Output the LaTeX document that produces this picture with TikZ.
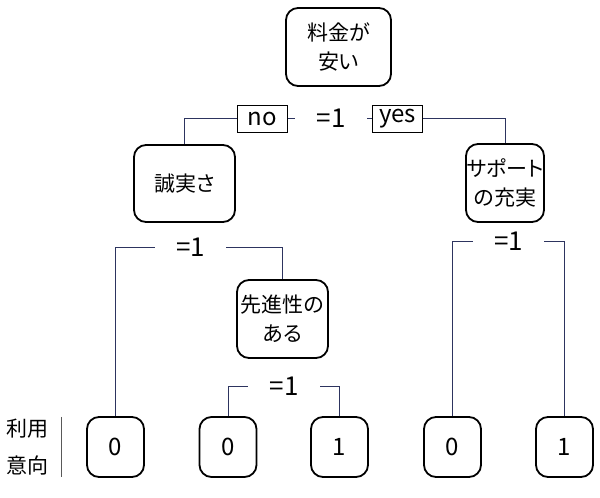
\documentclass[tikz,border=0pt]{standalone}
\usepackage{fontspec}
\setmainfont{Noto Sans CJK JP}[RawFeature=+palt]
\usetikzlibrary{backgrounds}
\definecolor{linkblue}{RGB}{45,52,95}
\tikzset{
  qbox/.style={draw=black, line width=1.8pt, rounded corners=12pt, fill=white,
    align=center, inner sep=0pt, font=\fontsize{21}{29}\selectfont},
  leaf/.style={qbox, minimum width=57pt, minimum height=60pt, font=\fontsize{24}{28}\selectfont},
  answer/.style={draw=black, line width=1pt, fill=white, minimum width=50pt,
    minimum height=27pt, inner sep=0pt, font=\fontsize{24}{27}\selectfont},
  eqlabel/.style={fill=white, minimum width=71pt, inner sep=0pt, font=\fontsize{26}{28}\selectfont},
  conn/.style={draw=linkblue, line width=1pt}
}
\begin{document}
\begin{tikzpicture}[x=1pt, y=-1pt]
  \useasboundingbox (0,0) rectangle (600,498);
  % questions
  \node[qbox, minimum width=105pt, minimum height=78pt] (price) at (338.5,47) {料金が\\安い};
  \node[qbox, minimum width=101pt, minimum height=77pt] (honest) at (184.5,183.5) {誠実さ};
  \node[qbox, minimum width=78pt, minimum height=78pt] (support) at (505,183) {サポート\\の充実};
  \node[qbox, minimum width=91pt, minimum height=78pt] (advanced) at (282.5,319) {先進性の\\ある};
  % leaves
  \node[leaf] (leafA) at (115.5,447) {0};
  \node[leaf] (leafB) at (228,447) {0};
  \node[leaf] (leafC) at (339.5,447) {1};
  \node[leaf] (leafD) at (452.5,447) {0};
  \node[leaf] (leafE) at (564.5,447) {1};
  \node[align=center, inner sep=0pt, minimum height=60pt, font=\fontsize{21}{37}\selectfont]
    (intent) at (27.5,447) {利用\\意向};
  \draw[draw=gray!70!black, line width=0.8pt]
    ([xshift=13pt]intent.north east) -- ([xshift=13pt]intent.south east);
  % split labels
  \node[eqlabel] (splitA) at (331,118) {=1};
  \node[answer] (no) at (262.5,118.5) {no};
  \node[answer] (yes) at (397.5,118.5) {yes};
  \node[eqlabel] (splitB) at (190.5,247) {=1};
  \node[eqlabel] (splitC) at (284,386) {=1};
  \node[eqlabel] (splitD) at (508.5,241) {=1};
  \begin{scope}[on background layer]
    \draw[conn] (honest.north) |- (splitA) -| (support.north);
    \draw[conn] (leafA.north) |- (splitB) -| (advanced.north);
    \draw[conn] (leafB.north) |- (splitC) -| (leafC.north);
    \draw[conn] (leafD.north) |- (splitD) -| (leafE.north);
  \end{scope}
\end{tikzpicture}
\end{document}
